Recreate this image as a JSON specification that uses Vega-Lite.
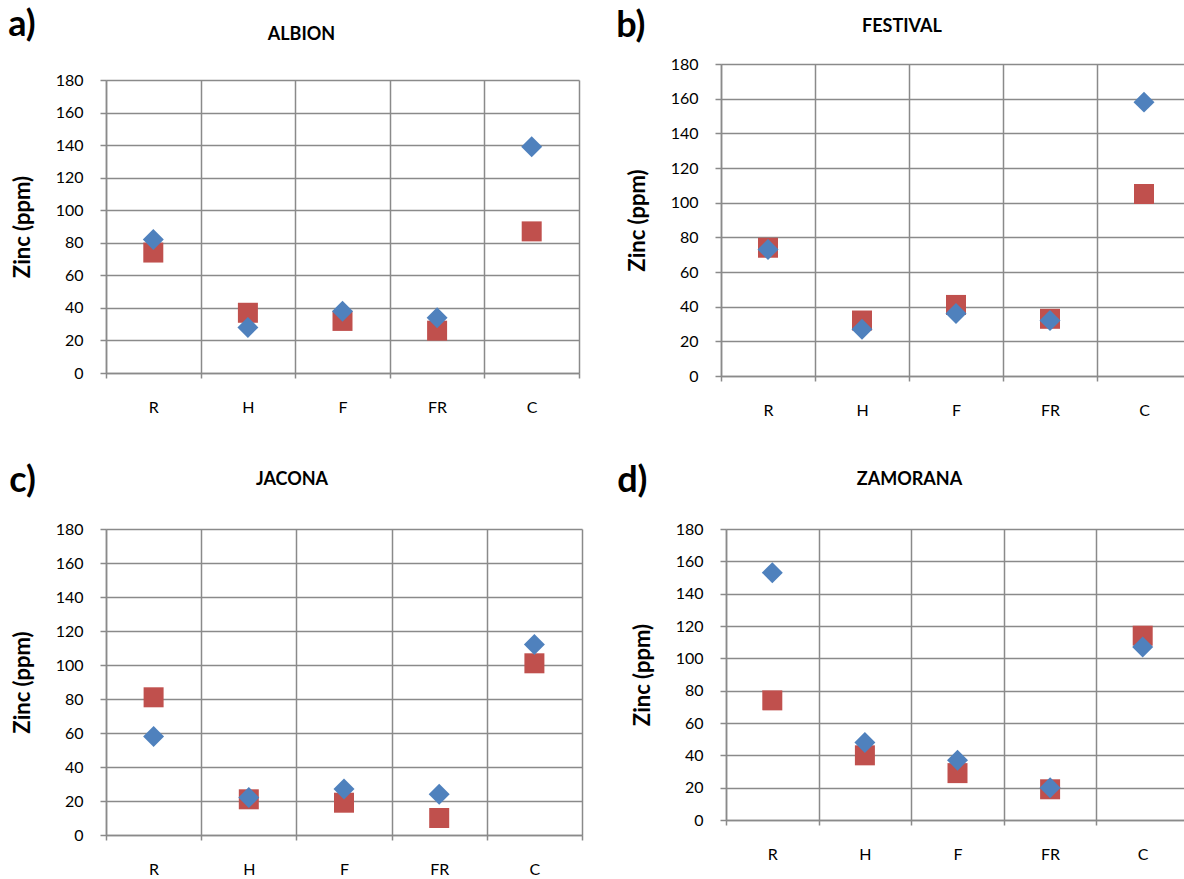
{
  "$schema": "https://vega.github.io/schema/vega-lite/v6.json",
  "background": "white",
  "padding": {"left": 8, "top": 7, "right": 0, "bottom": 0},
  "datasets": {
    "zinc": [
      {"site": "ALBION", "part": "R", "series": "S1", "zinc": 82},
      {"site": "ALBION", "part": "H", "series": "S1", "zinc": 28},
      {"site": "ALBION", "part": "F", "series": "S1", "zinc": 38},
      {"site": "ALBION", "part": "FR", "series": "S1", "zinc": 34},
      {"site": "ALBION", "part": "C", "series": "S1", "zinc": 139},
      {"site": "ALBION", "part": "R", "series": "S2", "zinc": 74},
      {"site": "ALBION", "part": "H", "series": "S2", "zinc": 37},
      {"site": "ALBION", "part": "F", "series": "S2", "zinc": 32},
      {"site": "ALBION", "part": "FR", "series": "S2", "zinc": 26},
      {"site": "ALBION", "part": "C", "series": "S2", "zinc": 87},
      {"site": "FESTIVAL", "part": "R", "series": "S1", "zinc": 73},
      {"site": "FESTIVAL", "part": "H", "series": "S1", "zinc": 27},
      {"site": "FESTIVAL", "part": "F", "series": "S1", "zinc": 36},
      {"site": "FESTIVAL", "part": "FR", "series": "S1", "zinc": 32},
      {"site": "FESTIVAL", "part": "C", "series": "S1", "zinc": 158},
      {"site": "FESTIVAL", "part": "R", "series": "S2", "zinc": 74},
      {"site": "FESTIVAL", "part": "H", "series": "S2", "zinc": 32},
      {"site": "FESTIVAL", "part": "F", "series": "S2", "zinc": 41},
      {"site": "FESTIVAL", "part": "FR", "series": "S2", "zinc": 33},
      {"site": "FESTIVAL", "part": "C", "series": "S2", "zinc": 105},
      {"site": "JACONA", "part": "R", "series": "S1", "zinc": 58},
      {"site": "JACONA", "part": "H", "series": "S1", "zinc": 22},
      {"site": "JACONA", "part": "F", "series": "S1", "zinc": 27},
      {"site": "JACONA", "part": "FR", "series": "S1", "zinc": 24},
      {"site": "JACONA", "part": "C", "series": "S1", "zinc": 112},
      {"site": "JACONA", "part": "R", "series": "S2", "zinc": 81},
      {"site": "JACONA", "part": "H", "series": "S2", "zinc": 21},
      {"site": "JACONA", "part": "F", "series": "S2", "zinc": 19},
      {"site": "JACONA", "part": "FR", "series": "S2", "zinc": 10},
      {"site": "JACONA", "part": "C", "series": "S2", "zinc": 101},
      {"site": "ZAMORANA", "part": "R", "series": "S1", "zinc": 153},
      {"site": "ZAMORANA", "part": "H", "series": "S1", "zinc": 48},
      {"site": "ZAMORANA", "part": "F", "series": "S1", "zinc": 37},
      {"site": "ZAMORANA", "part": "FR", "series": "S1", "zinc": 20},
      {"site": "ZAMORANA", "part": "C", "series": "S1", "zinc": 107},
      {"site": "ZAMORANA", "part": "R", "series": "S2", "zinc": 74},
      {"site": "ZAMORANA", "part": "H", "series": "S2", "zinc": 40},
      {"site": "ZAMORANA", "part": "F", "series": "S2", "zinc": 29},
      {"site": "ZAMORANA", "part": "FR", "series": "S2", "zinc": 19},
      {"site": "ZAMORANA", "part": "C", "series": "S2", "zinc": 114}
    ],
    "none": []
  },
  "data": {"name": "zinc"},
  "config": {
    "font": "Lato",
    "view": {"stroke": null},
    "concat": {"spacing": 0},
    "title": {"font": "Lato", "fontWeight": "bold", "color": "#000000"},
    "axis": {
      "gridColor": "#8a8a8a",
      "gridWidth": 1.5,
      "gridOpacity": 1,
      "domainColor": "#8a8a8a",
      "domainWidth": 1.5,
      "tickColor": "#8a8a8a",
      "tickWidth": 1.5,
      "labelFont": "Lato",
      "labelFontSize": 16,
      "labelColor": "#000000",
      "titleFont": "Lato",
      "titleFontSize": 22,
      "titleFontWeight": "bold",
      "titleColor": "#000000"
    },
    "axisX": {"title": null, "labelAngle": 0, "grid": true, "tickBand": "extent", "tickSize": 5, "labelPadding": 21},
    "axisY": {"tickSize": 6, "labelPadding": 17, "titlePadding": 21}
  },
  "spacing": 45,
  "vconcat": [
    {
      "spacing": 36,
      "hconcat": [
        {
          "title": {"text": "a)", "anchor": "start", "fontSize": 36, "offset": -18, "dx": -3},
          "spacing": 17,
          "vconcat": [
            {"title": {"text": "ALBION", "fontSize": 18, "offset": 10, "dx": -41}, "width": 473, "height": 1, "data": {"name": "none"}, "mark": "point"},
            {
              "width": 473,
              "height": 293,
              "transform": [{"filter": "datum.site === 'ALBION'"}],
              "encoding": {
                "x": {"field": "part", "type": "nominal", "sort": ["R", "H", "F", "FR", "C"], "scale": {"type": "band", "paddingInner": 0, "paddingOuter": 0}},
                "y": {"field": "zinc", "type": "quantitative", "scale": {"domain": [0, 180]}, "axis": {"title": "Zinc (ppm)", "values": [0, 20, 40, 60, 80, 100, 120, 140, 160, 180]}}
              },
              "layer": [
                {"transform": [{"filter": "datum.series === 'S2'"}], "mark": {"type": "point", "shape": "square", "filled": true, "opacity": 1, "size": 400, "color": "#C0504D"}},
                {"transform": [{"filter": "datum.series === 'S1'"}], "mark": {"type": "point", "shape": "diamond", "filled": true, "opacity": 1, "size": 440, "color": "#4F81BD"}}
              ]
            }
          ]
        },
        {
          "title": {"text": "b)", "anchor": "start", "fontSize": 36, "offset": -27, "dx": -10},
          "spacing": 1,
          "vconcat": [
            {"title": {"text": "FESTIVAL", "fontSize": 18, "offset": 18, "dx": -54}, "width": 470, "height": 1, "data": {"name": "none"}, "mark": "point"},
            {
              "width": 470,
              "height": 312,
              "transform": [{"filter": "datum.site === 'FESTIVAL'"}],
              "encoding": {
                "x": {"field": "part", "type": "nominal", "sort": ["R", "H", "F", "FR", "C"], "scale": {"type": "band", "paddingInner": 0, "paddingOuter": 0}},
                "y": {"field": "zinc", "type": "quantitative", "scale": {"domain": [0, 180]}, "axis": {"title": "Zinc (ppm)", "values": [0, 20, 40, 60, 80, 100, 120, 140, 160, 180]}}
              },
              "layer": [
                {"transform": [{"filter": "datum.series === 'S2'"}], "mark": {"type": "point", "shape": "square", "filled": true, "opacity": 1, "size": 400, "color": "#C0504D"}},
                {"transform": [{"filter": "datum.series === 'S1'"}], "mark": {"type": "point", "shape": "diamond", "filled": true, "opacity": 1, "size": 440, "color": "#4F81BD"}}
              ]
            }
          ]
        }
      ]
    },
    {
      "spacing": 34,
      "hconcat": [
        {
          "title": {"text": "c)", "anchor": "start", "fontSize": 36, "offset": -29, "dx": -2},
          "spacing": 21,
          "vconcat": [
            {"title": {"text": "JACONA", "fontSize": 18, "offset": 10, "dx": -52}, "width": 476, "height": 1, "data": {"name": "none"}, "mark": "point"},
            {
              "width": 476,
              "height": 306,
              "transform": [{"filter": "datum.site === 'JACONA'"}],
              "encoding": {
                "x": {"field": "part", "type": "nominal", "sort": ["R", "H", "F", "FR", "C"], "scale": {"type": "band", "paddingInner": 0, "paddingOuter": 0}},
                "y": {"field": "zinc", "type": "quantitative", "scale": {"domain": [0, 180]}, "axis": {"title": "Zinc (ppm)", "values": [0, 20, 40, 60, 80, 100, 120, 140, 160, 180]}}
              },
              "layer": [
                {"transform": [{"filter": "datum.series === 'S2'"}], "mark": {"type": "point", "shape": "square", "filled": true, "opacity": 1, "size": 400, "color": "#C0504D"}},
                {"transform": [{"filter": "datum.series === 'S1'"}], "mark": {"type": "point", "shape": "diamond", "filled": true, "opacity": 1, "size": 440, "color": "#4F81BD"}}
              ]
            }
          ]
        },
        {
          "title": {"text": "d)", "anchor": "start", "fontSize": 36, "offset": -29, "dx": -14},
          "spacing": 21,
          "vconcat": [
            {"title": {"text": "ZAMORANA", "fontSize": 18, "offset": 10, "dx": -48}, "width": 463, "height": 1, "data": {"name": "none"}, "mark": "point"},
            {
              "width": 463,
              "height": 291,
              "transform": [{"filter": "datum.site === 'ZAMORANA'"}],
              "encoding": {
                "x": {"field": "part", "type": "nominal", "sort": ["R", "H", "F", "FR", "C"], "scale": {"type": "band", "paddingInner": 0, "paddingOuter": 0}},
                "y": {"field": "zinc", "type": "quantitative", "scale": {"domain": [0, 180]}, "axis": {"title": "Zinc (ppm)", "values": [0, 20, 40, 60, 80, 100, 120, 140, 160, 180]}}
              },
              "layer": [
                {"transform": [{"filter": "datum.series === 'S2'"}], "mark": {"type": "point", "shape": "square", "filled": true, "opacity": 1, "size": 400, "color": "#C0504D"}},
                {"transform": [{"filter": "datum.series === 'S1'"}], "mark": {"type": "point", "shape": "diamond", "filled": true, "opacity": 1, "size": 440, "color": "#4F81BD"}}
              ]
            }
          ]
        }
      ]
    }
  ]
}
